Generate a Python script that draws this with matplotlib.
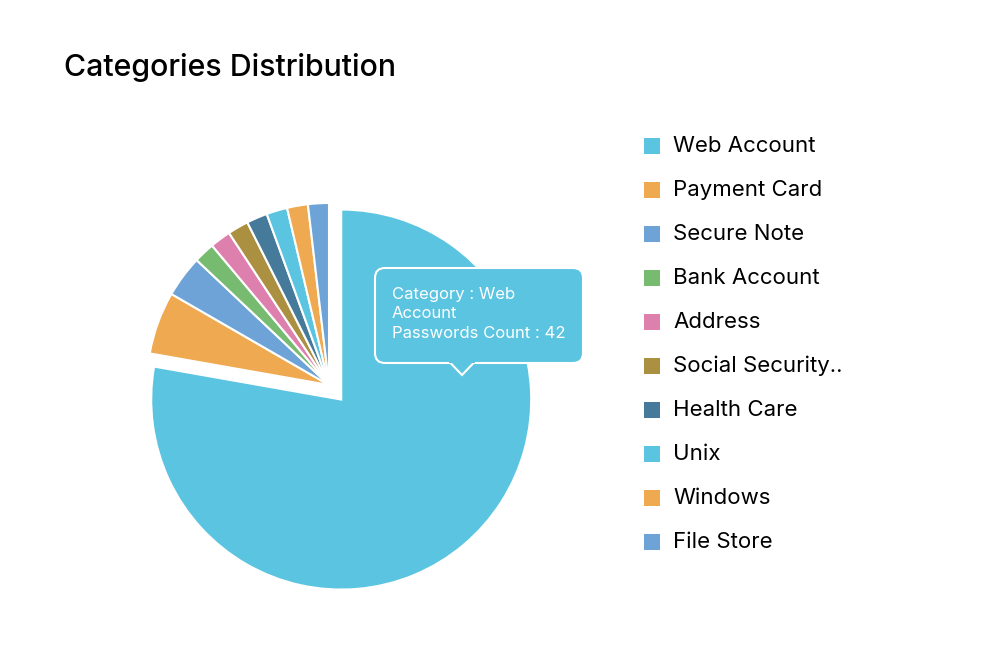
import matplotlib
matplotlib.use("Agg")
import matplotlib.pyplot as plt
from matplotlib.patches import FancyBboxPatch, Polygon, Rectangle

plt.rcParams['font.family'] = ['Inter', 'DejaVu Sans']

categories = ["Web Account", "Payment Card", "Secure Note", "Bank Account", "Address",
              "Social Security..", "Health Care", "Unix", "Windows", "File Store"]
counts = [42, 3, 2, 1, 1, 1, 1, 1, 1, 1]
colors = ["#5BC4E0", "#EFA950", "#6DA3D6", "#76BB70", "#DD80AE",
          "#AB9042", "#467A9A", "#5BC4E0", "#EFA950", "#6DA3D6"]

W, H = 986, 650
fig = plt.figure(figsize=(W / 100, H / 100), dpi=100)

# pie axes: 1 unit = R px
R = 182.0
cx, cy = 329.0, 385.0
ax = fig.add_axes([0, 0, 1, 1])
explode = [19 / R] + [0] * (len(counts) - 1)
wedges, _ = ax.pie(counts, colors=colors, startangle=90, counterclock=False,
                   explode=explode, radius=1.0,
                   wedgeprops=dict(edgecolor="white", linewidth=1.5))
wedges[0].set_radius(190 / R)
ax.set_xlim(-cx / R, (W - cx) / R)
ax.set_ylim(-(H - cy) / R, cy / R)
ax.set_aspect('auto')
ax.axis('off')

# overlay axes in pixel coordinates
ov = fig.add_axes([0, 0, 1, 1], facecolor='none')
ov.set_xlim(0, W)
ov.set_ylim(H, 0)
ov.axis('off')

ov.text(64, 68, "Categories Distribution", fontsize=21.8, color="#000000",
        fontweight='medium', va='center', ha='left')

# legend
for i, (lab, col) in enumerate(zip(categories, colors)):
    y = 146 + 44 * i
    ov.add_patch(Rectangle((644, y - 8), 16, 16, facecolor=col, edgecolor='none'))
    ov.text(673, y, lab, fontsize=16, color="#000000", va='center', ha='left')

# tooltip
box = FancyBboxPatch((375, 268), 208, 95, boxstyle="round,pad=0,rounding_size=10",
                     facecolor=colors[0], edgecolor="white", linewidth=1.5, zorder=5)
ov.add_patch(box)
ov.add_patch(Polygon([(450, 362.5), (462, 375), (474, 362.5)], closed=False,
                     facecolor=colors[0], edgecolor="white", linewidth=1.5, zorder=6))
ov.add_patch(Rectangle((449, 360), 26, 3, facecolor=colors[0], edgecolor='none', zorder=7))
tip_lines = ["Category : Web", "Account", "Passwords Count : " + str(counts[0])]
for j, t in enumerate(tip_lines):
    ov.text(392, 294 + 20 * j, t, fontsize=12, color="white", va='center', ha='left', zorder=8)

fig.savefig("out.png", dpi=100)
